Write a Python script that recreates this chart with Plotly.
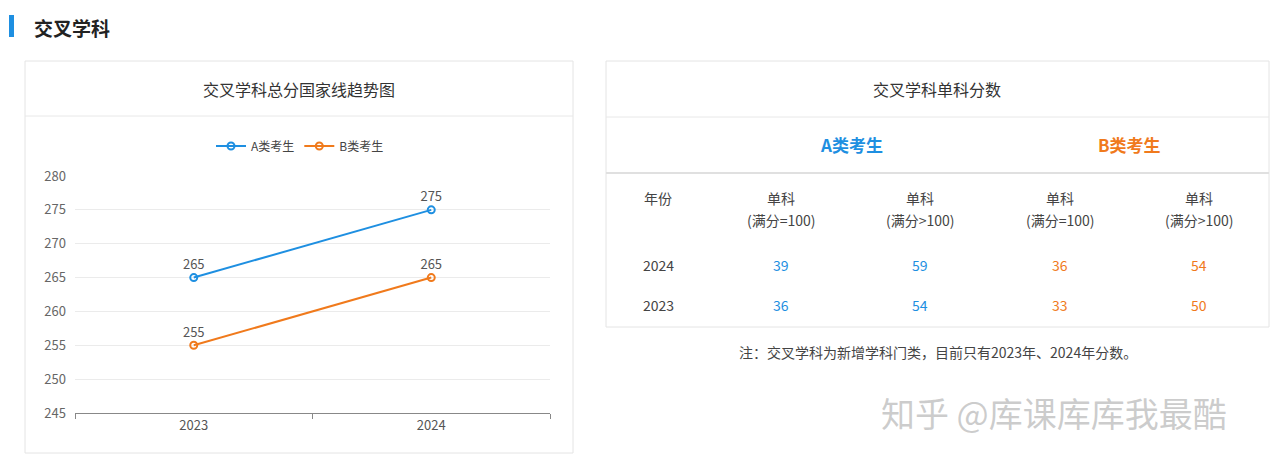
import plotly.graph_objects as go

W, H = 1280, 465

years = ["2023", "2024"]
score_a = [265, 275]
score_b = [255, 265]

table_years = ["2024", "2023"]
a_eq100 = [39, 36]
a_gt100 = [59, 54]
b_eq100 = [36, 33]
b_gt100 = [54, 50]

BLUE = "#1e8fe1"
ORANGE = "#f07a1c"
FONT = "Noto Sans CJK SC"


def px(x):
    return x / W


def py(y):
    return 1 - y / H


fig = go.Figure()
for name, vals, color in [("A类考生", score_a, BLUE), ("B类考生", score_b, ORANGE)]:
    fig.add_trace(go.Scatter(
        x=years, y=vals, name=name,
        mode="lines+markers+text",
        text=[str(v) for v in vals], textposition="top center",
        textfont=dict(size=13, color="#555"),
        line=dict(color=color, width=2),
        marker=dict(symbol="circle-open", size=7, color=color, line=dict(width=2)),
        cliponaxis=False,
    ))

shapes = [
    # section marker
    dict(type="rect", xref="paper", yref="paper", x0=px(9), x1=px(14), y0=py(37), y1=py(15),
         fillcolor=BLUE, line_width=0),
    # left panel
    dict(type="rect", xref="paper", yref="paper", x0=px(25), x1=px(573), y0=py(453), y1=py(61),
         line=dict(color="#e4e4e4", width=1), layer="below"),
    dict(type="line", xref="paper", yref="paper", x0=px(25), x1=px(573), y0=py(116), y1=py(116),
         line=dict(color="#e8e8e8", width=1)),
    # right panel
    dict(type="rect", xref="paper", yref="paper", x0=px(606), x1=px(1269), y0=py(327), y1=py(61),
         line=dict(color="#e4e4e4", width=1), layer="below"),
    dict(type="line", xref="paper", yref="paper", x0=px(606), x1=px(1269), y0=py(117), y1=py(117),
         line=dict(color="#e8e8e8", width=1)),
    dict(type="line", xref="paper", yref="paper", x0=px(606), x1=px(1269), y0=py(173), y1=py(173),
         line=dict(color="#e0e0e0", width=2)),
]


def txt(x, y, s, size=14, color="#333", xanchor="center"):
    return dict(xref="paper", yref="paper", x=px(x), y=py(y), text=s, showarrow=False,
                xanchor=xanchor, yanchor="middle",
                font=dict(size=size, color=color, family=FONT))


ann = [
    txt(32, 27, "<b>交叉学科</b>", 19, "#222", xanchor="left"),
    txt(299, 89, "交叉学科总分国家线趋势图", 16, "#333"),
    txt(937, 89, "交叉学科单科分数", 16, "#333"),
    txt(851, 145, "<b>A类考生</b>", 17, BLUE),
    txt(1129, 145, "<b>B类考生</b>", 17, ORANGE),
    txt(658, 198, "年份", 14, "#444"),
    txt(938, 352, "注：交叉学科为新增学科门类，目前只有2023年、2024年分数。", 14, "#444"),
    txt(1054, 412, "知乎 @库课库库我最酷", 34, "rgba(170,170,170,0.6)"),
]
col_x = [781, 920, 1060, 1199]
col_hdr = ["(满分=100)", "(满分>100)", "(满分=100)", "(满分>100)"]
for cx, h in zip(col_x, col_hdr):
    ann.append(txt(cx, 198, "单科", 14, "#444"))
    ann.append(txt(cx, 220, h, 14, "#444"))
row_y = [265, 305]
cols = [(a_eq100, BLUE), (a_gt100, BLUE), (b_eq100, ORANGE), (b_gt100, ORANGE)]
for i, (yr, ry) in enumerate(zip(table_years, row_y)):
    ann.append(txt(658, ry, yr, 14, "#444"))
    for cx, (vals, c) in zip(col_x, cols):
        ann.append(txt(cx, ry, str(vals[i]), 14, c))

fig.update_layout(
    width=W, height=H, margin=dict(l=0, r=0, t=0, b=0, autoexpand=False),
    paper_bgcolor="white", plot_bgcolor="white",
    font=dict(family=FONT, color="#555", size=13),
    shapes=shapes, annotations=ann,
    legend=dict(orientation="h", x=px(300), xanchor="center", y=py(146), yanchor="middle",
                font=dict(size=12, color="#444"), itemwidth=30),
    xaxis=dict(domain=[px(75), px(550)], type="category", range=[-0.5, 1.5],
               tickson="boundaries", ticks="outside", ticklen=5, tickcolor="#888",
               showline=True, linecolor="#888", showgrid=False,
               tickfont=dict(size=13, color="#555")),
    yaxis=dict(domain=[py(413), py(176)], range=[245, 280], dtick=5,
               showgrid=True, gridcolor="#ebebeb", zeroline=False,
               ticks="", ticklabelstandoff=8, tickfont=dict(size=13, color="#666")),
)

fig.write_html(
    "out.html",
    config={"displayModeBar": False},
    post_script=(
        "document.body.style.margin='0';"
        "document.body.style.overflow='hidden';"
        "document.documentElement.style.overflow='hidden';"
    ),
)
